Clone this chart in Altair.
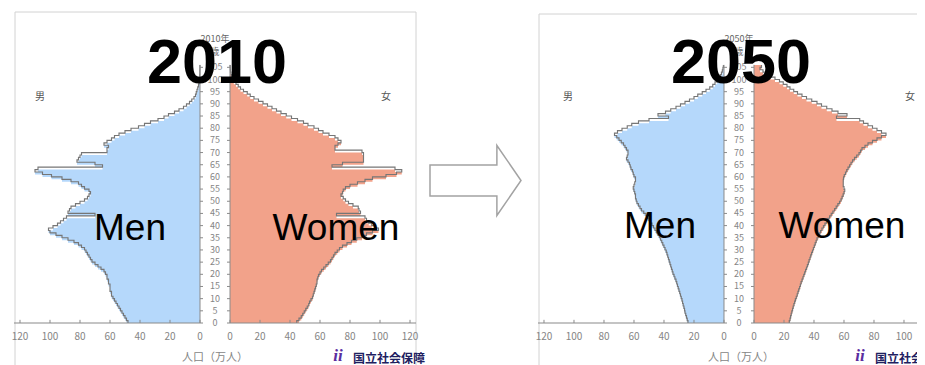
import altair as alt
import pandas as pd

# ---------------- data (万人, single years of age 0..105) ----------------
YEARS = ["2010", "2050"]
SEXES = ["men", "women"]
AGES = list(range(0, 106))

MEN_2010 = [
    48, 49, 50, 51, 52, 53, 54, 55, 56, 57,
    58, 59, 59, 60, 60, 60, 61, 61, 62, 62,
    63, 64, 66, 68, 70, 72, 73, 74, 75, 76,
    77, 79, 81, 84, 88, 92, 96, 100, 101, 98,
    95, 93, 91, 89, 70, 88, 87, 86, 83, 80,
    77, 75, 74, 73, 74, 77, 79, 81, 86, 92,
    99, 105, 110, 108, 65, 70, 82, 81, 80, 79,
    62, 62, 61, 64, 62, 59, 57, 54, 50, 46,
    41, 37, 33, 28, 24, 21, 17, 14, 11, 9,
    7, 5.5, 4, 3, 2.5, 2, 1.5, 1, 0.7, 0.5,
    0.3, 0.2, 0.1, 0.1, 0.05, 0.05,
]
WOMEN_2010 = [
    44.5, 46, 47.5, 48.5, 49.5, 50.5, 51.5, 52.5, 53, 54,
    55, 55.5, 56, 56.5, 57, 57.5, 58, 58, 58.5, 59,
    60, 61, 62.5, 64, 65.5, 67, 68, 69, 70, 71.5,
    73, 75, 78, 81, 84.5, 88, 91, 95, 99, 97,
    94.5, 92.5, 91, 90, 71, 87, 86, 85.5, 82, 79,
    77, 75.5, 74, 75, 75.5, 77, 80, 85, 90, 95,
    104, 111, 114.5, 110, 68, 75, 89, 89, 89, 89,
    88, 70, 70, 72, 74, 72, 70, 66, 62, 59,
    56, 52, 49, 45, 41, 37.5, 34, 31, 28, 25,
    22, 19, 16, 13.5, 11.5, 9, 7, 5.5, 4, 2.5,
    1.5, 1, 0.6, 0.3, 0.2, 0.1,
]
MEN_2050 = [
    24, 24.5, 25, 25.5, 26, 26.3, 26.7, 27.2, 27.6, 28,
    28.5, 29, 29.5, 30, 30.5, 31, 31.5, 32, 32.7, 33.3,
    34, 34.5, 35, 35.5, 36, 36.5, 37, 37.5, 38, 38.5,
    39.3, 40, 40.8, 41.5, 42.3, 43, 44, 45, 46, 47,
    48, 49, 50, 51, 52, 53.5, 55, 56, 57, 58,
    58.5, 59, 59, 59.5, 60, 60.5, 60, 59.5, 59, 59,
    60, 60.5, 61, 62, 62.5, 63, 64, 65, 64.5, 64,
    64, 65, 66, 67, 68.5, 70, 71.5, 73, 71, 68,
    64.5, 61.5, 57, 50, 37, 44, 39, 35.5, 32, 29,
    26, 23, 20, 17.5, 14.5, 12, 9.5, 7.5, 6, 4.5,
    3.5, 2.5, 1.7, 1.1, 0.7, 0.4,
]
WOMEN_2050 = [
    23.5, 24, 24.4, 24.8, 25.2, 25.7, 26.1, 26.6, 27.1, 27.6,
    28.2, 28.8, 29.3, 29.8, 30.4, 30.9, 31.4, 32, 32.6, 33.2,
    33.8, 34.4, 35, 35.6, 36.2, 36.7, 37.3, 37.8, 38.4, 39,
    39.6, 40.2, 40.8, 41.4, 42, 42.8, 43.6, 44.4, 45.3, 46.3,
    47.3, 48.3, 49.3, 50.4, 51.5, 52.6, 53.7, 54.8, 55.9, 57,
    58, 58.7, 59.4, 60, 60.5, 60, 59.5, 59.5, 59.5, 59.7,
    60.2, 61, 61.8, 62.7, 63.7, 64.7, 65.7, 67, 68.5, 70,
    71, 72, 74, 76, 79, 82, 85, 88, 85, 82,
    79, 76, 73, 70.5, 55, 62, 56, 52, 48.5, 45,
    42, 38.5, 35, 32, 29, 26.5, 24, 22, 19.5, 17,
    14, 11, 8.5, 6, 4, 5,
]
X_TICKS = [0, 20, 40, 60, 80, 100, 120]
AGE_TICKS = list(range(0, 106, 5))
SEX_TEXT = ["Men", "Women"]
SEX_SMALL = ["男", "女"]
X_TITLE = "人口（万人）"
AGE_UNIT = "歳"
LOGO = "国立社会保障"

# ---------------- layout constants ----------------
W, H = 909, 357
PX_X = 1.5
PX_Y = 2.435
BASE_Y = 315
GAP = 10
U_MIN = -138
U_MAX = U_MIN + W / PX_X
C2050 = round((739 - 8) / PX_X + U_MIN, 2)
Y_MIN = -(H - BASE_Y) / PX_Y
Y_MAX = BASE_Y / PX_Y
AXIS_END = 124
TOP_AGE = AGES[-1] + 1

BLUE = "#b5d8fb"
SALMON = "#f2a28a"
OUTLINE = "#767676"
GRAY_TXT = "#858585"
FONT = "Liberation Sans"
CJK = "Noto Sans CJK JP"

xs = alt.Scale(domain=[U_MIN, U_MAX], nice=False, zero=False)
ys = alt.Scale(domain=[Y_MIN, Y_MAX], nice=False, zero=False)

# ---------------- tables built from the arrays ----------------
series = {("2010", "men"): MEN_2010, ("2010", "women"): WOMEN_2010,
          ("2050", "men"): MEN_2050, ("2050", "women"): WOMEN_2050}
rows = []
for (p, s), vals in series.items():
    for a, v in zip(AGES, vals):
        rows.append({"panel": p, "sex": s, "age": a, "value": v})
    rows.append({"panel": p, "sex": s, "age": TOP_AGE, "value": vals[-1]})
pop = pd.DataFrame(rows)

edges = pd.DataFrame([{"panel": p, "sex": s} for p in YEARS for s in SEXES])
age_ticks = pd.DataFrame([{"panel": p, "sex": s, "age": a}
                          for p in YEARS for s in SEXES for a in AGE_TICKS])
x_ticks = pd.DataFrame([{"panel": p, "sex": s, "value": v}
                        for p in YEARS for s in SEXES for v in X_TICKS])
age_labels = pd.DataFrame([{"panel": p, "age": a} for p in YEARS for a in AGE_TICKS])
one = pd.DataFrame({"k": [0]})

CENTER = f"datum.panel == '2010' ? 0 : {C2050}"
SIGN = "datum.sex == 'men' ? -1 : 1"


def geo(chart):
    return chart.transform_calculate(center=CENTER).transform_calculate(
        sign=SIGN).transform_calculate(u0="datum.center + datum.sign * %d" % GAP)


X = lambda f: alt.X(f, type="quantitative", scale=xs, axis=None)
Y = lambda f: alt.Y(f, type="quantitative", scale=ys, axis=None)

frame1 = alt.Chart(one).mark_rect(fill="white", stroke="#d2d2d2", strokeWidth=1).encode(
    x=alt.value(7), x2=alt.value(408), y=alt.value(4), y2=alt.value(420))
frame2 = alt.Chart(one).mark_rect(fill="white", stroke="#d2d2d2", strokeWidth=1).encode(
    x=alt.value(531), x2=alt.value(960), y=alt.value(6), y2=alt.value(420))

popc = geo(alt.Chart(pop)).transform_calculate(
    u="datum.center + datum.sign * (%d + datum.value)" % GAP).transform_calculate(
    series="datum.panel + datum.sex")

area = popc.mark_area(orient="horizontal", interpolate="step-before").encode(
    y=Y("age"), x=X("u"), x2=alt.X2("u0"),
    color=alt.Color("sex:N", scale=alt.Scale(domain=SEXES, range=[BLUE, SALMON]), legend=None),
    detail="series:N",
)
outline = popc.mark_line(interpolate="step-before", color=OUTLINE, strokeWidth=1.15).encode(
    y=Y("age"), x=X("u"), detail="series:N", order=alt.Order("age:Q"),
)

zero_edge = geo(alt.Chart(edges)).transform_calculate(
    a0="0", a1=str(TOP_AGE)).mark_rule(color="#8a8a8a", strokeWidth=1).encode(
    x=X("u0"), y=Y("a0"), y2=alt.Y2("a1"))

baseline = geo(alt.Chart(edges)).transform_calculate(
    uend="datum.center + datum.sign * %d" % (GAP + AXIS_END), a0="0").mark_rule(
    color="#8a8a8a", strokeWidth=1.2).encode(
    x=X("u0"), x2=alt.X2("uend"), y=Y("a0"))

aticks = geo(alt.Chart(age_ticks)).transform_calculate(
    ut="datum.u0 - datum.sign * 2").mark_rule(color="#8a8a8a", strokeWidth=1).encode(
    x=X("u0"), x2=alt.X2("ut"), y=Y("age"))

xt = geo(alt.Chart(x_ticks)).transform_calculate(
    ux="datum.center + datum.sign * (%d + datum.value)" % GAP, a0="0", a1="1.3"
).transform_filter(f"datum.ux < {U_MAX - 4}")
xtick_marks = xt.mark_rule(color="#8a8a8a", strokeWidth=1).encode(
    x=X("ux"), y=Y("a0"), y2=alt.Y2("a1"))
xtick_text = xt.mark_text(dy=14, fontSize=10, color=GRAY_TXT, font=CJK).encode(
    x=X("ux"), y=Y("a0"), text="value:Q")

age_text = alt.Chart(age_labels).transform_calculate(center=CENTER).mark_text(
    fontSize=9, color=GRAY_TXT, font=CJK, baseline="middle").encode(
    x=X("center"), y=Y("age"), text="age:Q")


def txt(text, x, y, **kw):
    return alt.Chart(one).mark_text(text=text, **kw).encode(x=alt.value(x), y=alt.value(y))


annos = []
for p, cx, ty, men_x, women_x, lab_y, m_x, f_x, logo_x in [
        ("2010", 209, 75, 122, 328, 232, 32, 378, 330),
        ("2050", 733, 75, 652, 834, 230, 560, 902, 852)]:
    annos += [
        txt(p + "年", cx - 2, 31, fontSize=9, color="#666", font=CJK, baseline="middle"),
        txt(AGE_UNIT, cx - 2, 44, fontSize=9, color="#666", font=CJK, baseline="middle"),
        txt(SEX_SMALL[0], m_x, 89, fontSize=10, color="#555", font=CJK, baseline="middle"),
        txt(SEX_SMALL[1], f_x, 89, fontSize=10, color="#555", font=CJK, baseline="middle"),
        txt(X_TITLE, cx - 2 if p == "2010" else cx, 350, fontSize=11, color=GRAY_TXT,
            font=CJK, baseline="middle"),
        txt("ii", logo_x, 348, fontSize=17, color="#5a2da0", font="Liberation Serif",
            fontStyle="italic", fontWeight="bold", baseline="middle"),
        txt(LOGO, logo_x + 15, 351, fontSize=12, color="#1e2060", font=CJK,
            fontWeight="bold", align="left", baseline="middle"),
        txt(p, cx, ty, fontSize=63, fontWeight="bold", font=FONT, color="black",
            baseline="alphabetic"),
        txt(SEX_TEXT[0], men_x, lab_y, fontSize=37, font=FONT, color="black",
            baseline="alphabetic"),
        txt(SEX_TEXT[1], women_x, lab_y, fontSize=37, font=FONT, color="black",
            baseline="alphabetic"),
    ]

ARROW = "M -1 -0.34 L 0.47 -0.34 L 0.47 -0.77 L 1 0 L 0.47 0.77 L 0.47 0.34 L -1 0.34 Z"
arrow = alt.Chart(one).mark_point(
    shape=ARROW, size=8281, filled=True, fill="white", stroke="#a3a3a3",
    strokeWidth=1.5, opacity=1).encode(x=alt.value(467.5), y=alt.value(172.5))

chart = alt.layer(
    frame1, frame2, area, outline, zero_edge, baseline, aticks,
    xtick_marks, xtick_text, age_text, *annos, arrow,
).properties(
    width=W, height=H, padding=0,
    autosize=alt.AutoSizeParams(type="none"),
).configure_view(stroke="transparent")

chart.save("out.html", embed_options={"renderer": "svg", "actions": False})
